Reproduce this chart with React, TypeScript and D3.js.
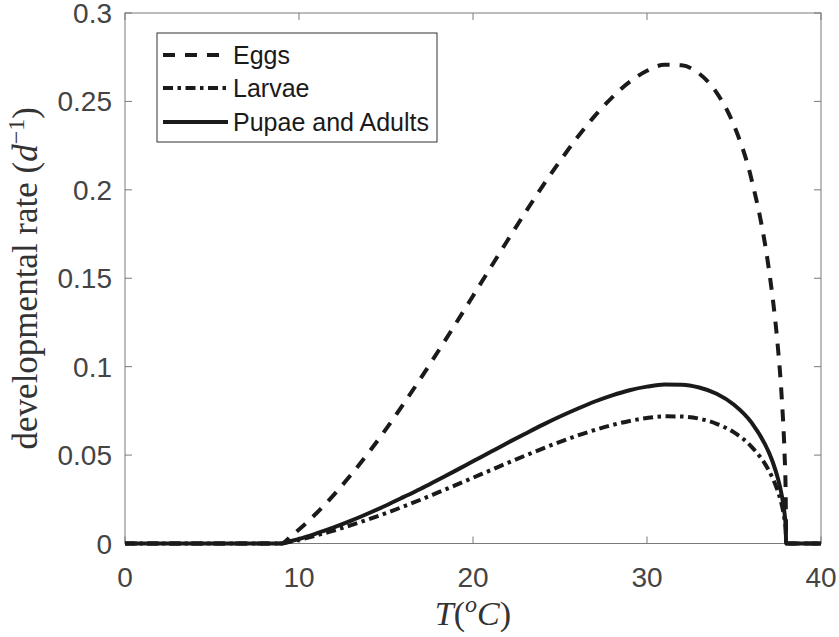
import React from "react";
import * as d3 from "d3";

const TEMPS = [0, 9, 9.5, 10, 11, 12, 13, 14, 15, 16, 17, 18, 19, 20, 21, 22, 23, 24, 25, 26, 27, 28, 29, 30, 31, 32, 33, 34, 35, 36, 37, 37.25, 37.5, 37.75, 37.9, 37.97, 38, 40];
const EGGS = [0, 0, 0.0038, 0.0079, 0.0171, 0.0275, 0.039, 0.0514, 0.0647, 0.0788, 0.0935, 0.1087, 0.1242, 0.14, 0.1559, 0.1716, 0.1871, 0.2021, 0.2163, 0.2297, 0.2418, 0.2523, 0.261, 0.2673, 0.2707, 0.2704, 0.2657, 0.255, 0.2364, 0.2062, 0.1554, 0.1367, 0.1134, 0.0814, 0.052, 0.0286, 0, 0];
const LARVAE = [0, 0, 0.001, 0.0021, 0.0046, 0.0073, 0.0104, 0.0137, 0.0172, 0.0209, 0.0248, 0.0289, 0.033, 0.0372, 0.0414, 0.0456, 0.0497, 0.0537, 0.0575, 0.061, 0.0642, 0.067, 0.0693, 0.071, 0.0719, 0.0718, 0.0706, 0.0677, 0.0628, 0.0548, 0.0413, 0.0363, 0.0301, 0.0216, 0.0138, 0.0076, 0, 0];
const PUPAE = [0, 0, 0.0013, 0.0026, 0.0057, 0.0091, 0.0129, 0.0171, 0.0215, 0.0262, 0.031, 0.0361, 0.0412, 0.0465, 0.0517, 0.057, 0.0621, 0.0671, 0.0718, 0.0762, 0.0803, 0.0838, 0.0867, 0.0887, 0.0899, 0.0898, 0.0882, 0.0847, 0.0785, 0.0685, 0.0516, 0.0454, 0.0376, 0.027, 0.0173, 0.0095, 0, 0];

const X_TICKS = [0, 10, 20, 30, 40];
const Y_TICKS = [0, 0.05, 0.1, 0.15, 0.2, 0.25, 0.3];
const Y_TICK_LABELS = ["0", "0.05", "0.1", "0.15", "0.2", "0.25", "0.3"];
const LEGEND_LABELS = ["Eggs", "Larvae", "Pupae and Adults"];

const W = 839;
const H = 637;
const L = 125, R = 821, T = 13, B = 543.5;

export default function App() {
  const x = d3.scaleLinear().domain([0, 40]).range([L, R]);
  const y = d3.scaleLinear().domain([0, 0.3]).range([B, T]);
  const line = d3
    .line<number>()
    .x((_, i) => x(TEMPS[i]))
    .y((v) => y(v))
    .curve(d3.curveMonotoneX);

  const series = [
    { data: EGGS, dash: "12,10" },
    { data: LARVAE, dash: "10,4.5,3.5,4.5" },
    { data: PUPAE, dash: "none" },
  ];

  const axisColor = "#7a7a7a";
  const textColor = "#444";
  const tickLen = 7;
  const sans = "Liberation Sans, Arial, Helvetica, sans-serif";
  const serif = "Liberation Serif, Times New Roman, serif";

  const legX = 157, legY = 33, legW = 280, legH = 109;
  const rowY = [55, 88, 122];

  return (
    <svg width={W} height={H} style={{ position: "absolute", left: 0, top: 0, background: "#fff" }}>
      <rect x={0} y={0} width={W} height={H} fill="#fff" />
      <rect x={L} y={T} width={R - L} height={B - T} fill="none" stroke={axisColor} strokeWidth={1} />
      {X_TICKS.map((t) => (
        <g key={"x" + t}>
          <line x1={x(t)} x2={x(t)} y1={B} y2={B - tickLen} stroke={axisColor} />
          <line x1={x(t)} x2={x(t)} y1={T} y2={T + tickLen} stroke={axisColor} />
          <text x={x(t)} y={587} textAnchor="middle" fontFamily={sans} fontSize={28} fill={textColor}>
            {t}
          </text>
        </g>
      ))}
      {Y_TICKS.map((t, i) => (
        <g key={"y" + t}>
          <line x1={L} x2={L + tickLen} y1={y(t)} y2={y(t)} stroke={axisColor} />
          <line x1={R} x2={R - tickLen} y1={y(t)} y2={y(t)} stroke={axisColor} />
          <text x={112} y={y(t) + 10} textAnchor="end" fontFamily={sans} fontSize={28} fill={textColor}>
            {Y_TICK_LABELS[i]}
          </text>
        </g>
      ))}
      {series.map((s, i) => (
        <path
          key={i}
          d={line(s.data) || ""}
          fill="none"
          stroke="#1a1a1a"
          strokeWidth={4}
          strokeDasharray={s.dash}
          strokeLinejoin="round"
        />
      ))}
      <rect x={legX} y={legY} width={legW} height={legH} fill="#fff" stroke="#333" strokeWidth={1} />
      {series.map((s, i) => (
        <g key={"leg" + i}>
          <line x1={163} x2={228} y1={rowY[i]} y2={rowY[i]} stroke="#1a1a1a" strokeWidth={4} strokeDasharray={s.dash} />
          <text x={233} y={rowY[i] + 9} fontFamily={sans} fontSize={25} fill="#1a1a1a">
            {LEGEND_LABELS[i]}
          </text>
        </g>
      ))}
      <text x={(L + R) / 2} y={625} textAnchor="middle" fontFamily={serif} fontSize={34} fill="#333">
        <tspan fontStyle="italic">T</tspan>
        <tspan>(</tspan>
        <tspan fontStyle="italic" fontSize={24} dy={-13}>o</tspan>
        <tspan fontStyle="italic" dy={13}>C</tspan>
        <tspan>)</tspan>
      </text>
      <text
        transform={`translate(37, ${(T + B) / 2}) rotate(-90)`}
        textAnchor="middle"
        fontFamily={serif}
        fontSize={35}
        fill="#333"
      >
        <tspan>developmental rate (</tspan>
        <tspan fontStyle="italic">d</tspan>
        <tspan fontSize={24} dy={-13}>−1</tspan>
        <tspan dy={13}>)</tspan>
      </text>
    </svg>
  );
}
